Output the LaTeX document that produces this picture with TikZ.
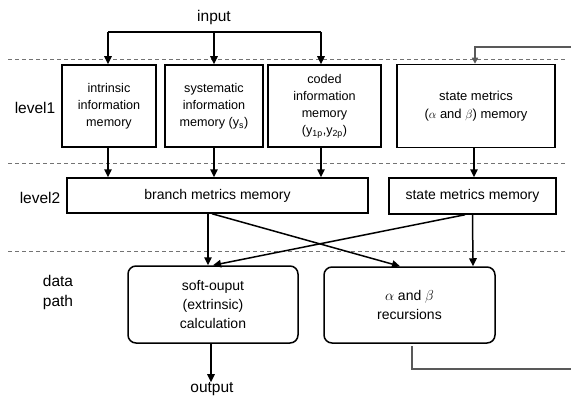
\documentclass[tikz,border=0pt]{standalone}
\usepackage{fontspec}
\setmainfont{Liberation Sans}
\usetikzlibrary{arrows.meta}
\begin{document}
\begin{tikzpicture}[x=1pt,y=-1pt,
 box/.style={draw, line width=1.5pt, align=center, inner sep=0pt},
 lone/.style={box, font=\fontsize{12.6}{17}\selectfont},
 ltwo/.style={box, font=\fontsize{14}{19}\selectfont},
 dpath/.style={box, rounded corners=8pt, font=\fontsize{14}{19}\selectfont},
 lab/.style={font=\fontsize{15.5}{20}\selectfont, align=center, inner sep=0pt},
 arr/.style={line width=1.5pt, -{Triangle[length=8pt,width=7.5pt]}},
 ln/.style={line width=1.5pt},
 sep/.style={draw=black!55, line width=0.6pt, dash pattern=on 4pt off 3pt},
 fb/.style={line width=1.4pt, draw=black!65},
 fbarr/.style={fb, -{Triangle[length=6pt,width=6pt]}},
]
\useasboundingbox (0,0) rectangle (571,396);

% separators
\draw[sep] (8,59) -- (567,59);
\draw[sep] (8,163) -- (567,163);
\draw[sep] (8,251) -- (567,251);

% labels
\node[lab] (in) at (214,17) {input};
\node[lab] (lvone) at (35,108) {level1};
\node[lab] (lvtwo) at (40,198) {level2};
\node[lab] (dp) at (58,292) {data\\path};
\node[lab] (out) at (212,389) {output};

% level 1
\node[lone, minimum width=94pt, minimum height=82pt] (intr) at (109,106) {intrinsic\\information\\memory};
\node[lone, minimum width=98pt, minimum height=82pt] (syst) at (214,106) {systematic\\information\\memory (y\textsubscript{s})};
\node[lone, minimum width=113pt, minimum height=82pt] (coded) at (324.5,106) {coded\\information\\memory\\(y\textsubscript{1p},y\textsubscript{2p})};
\node[lone, minimum width=158pt, minimum height=83pt, font=\fontsize{13}{18}\selectfont] (smet) at (476,106) {state metrics\\($\alpha$ and $\beta$) memory};

% level 2
\node[ltwo, minimum width=301pt, minimum height=35pt] (branch) at (217.5,195.5) {branch metrics memory};
\node[ltwo, minimum width=167pt, minimum height=36pt] (smem) at (472.5,196) {state metrics memory};

% data path
\node[dpath, minimum width=170pt, minimum height=77pt] (soft) at (213,304.5) {soft-ouput\\(extrinsic)\\calculation};
\node[dpath, minimum width=171pt, minimum height=76pt] (ab) at (409.5,305) {$\alpha$ and $\beta$\\recursions};

% input distribution
\coordinate (jone) at (108,32);
\coordinate (jtwo) at (214,32);
\coordinate (jthree) at (321,32);
\draw[ln] (jone) -- (jthree);
\draw[arr] (jone) -- (jone |- intr.north);
\draw[arr] (jtwo) -- (jtwo |- syst.north);
\draw[arr] (jthree) -- (jthree |- coded.north);

% level1 -> level2
\draw[arr] (jone |- intr.south) -- (jone |- branch.north);
\draw[arr] (jtwo |- syst.south) -- (jtwo |- branch.north);
\draw[arr] (jthree |- coded.south) -- (jthree |- branch.north);
\coordinate (sx) at (474,0);
\draw[arr] (sx |- smet.south) -- (sx |- smem.north);

% level2 -> data path
\draw[arr] ([xshift=-9.5pt]branch.south) -- ([xshift=-5pt]soft.north);
\draw[arr] ([xshift=-5.5pt]branch.south) -- ([xshift=-9.5pt]ab.north);
\draw[arr] ([xshift=-7.5pt]smem.south) -- (soft.north);
\draw[arr] (smem.south) -- ([xshift=63.5pt]ab.north);

% output
\draw[arr] ([xshift=-2pt]soft.south) -- ([xshift=-1pt]out.north);

% feedback
\coordinate (fa) at (412,346);
\coordinate (fb1) at (412,369);
\coordinate (fc) at (571.3,369);
\coordinate (fd) at (571.3,47);
\coordinate (fe) at (475,47);
\draw[fb] (fa) -- (fb1) -- (fc) -- (fd);
\draw[fbarr] (fd) -- (fe) -- (fe |- smet.north);
\end{tikzpicture}
\end{document}
